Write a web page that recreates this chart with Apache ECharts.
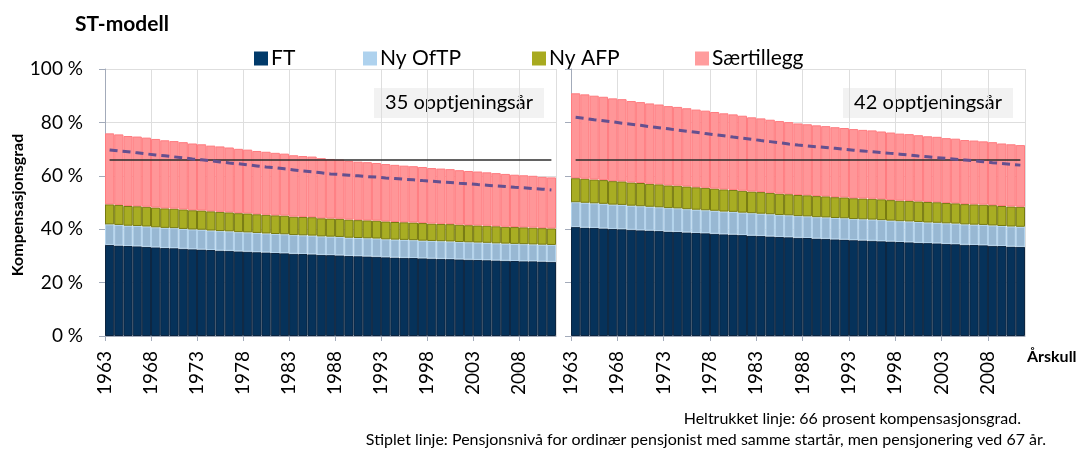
<!DOCTYPE html>
<html>
<head>
<meta charset="utf-8">
<script src="https://cdn.jsdelivr.net/npm/echarts@6/dist/echarts.min.js"></script>
<style>
  html, body { margin: 0; padding: 0; background: #fff; }
  #chart { width: 1084px; height: 451px; }
</style>
</head>
<body>
<div id="chart"></div>
<script>
// årskull 1963 - 2011
const firstYear = 1963;
const years = Array.from({ length: 49 }, (_, i) => String(firstYear + i));
const yTicks = [0, 20, 40, 60, 80, 100];
const level66 = 66;

// 35 opptjeningsår
const ft35 = [34.1,33.9,33.7,33.6,33.4,33.2,33.0,32.9,32.7,32.5,32.4,32.2,32.0,31.9,31.7,31.6,31.4,31.3,31.1,31.0,30.8,30.7,30.6,30.4,30.3,30.2,30.0,29.9,29.8,29.7,29.5,29.4,29.3,29.2,29.1,29.0,28.9,28.8,28.7,28.6,28.5,28.4,28.3,28.2,28.1,28.0,28.0,27.9,27.8];
const oftp35 = [7.7,7.7,7.6,7.6,7.6,7.5,7.5,7.5,7.4,7.4,7.4,7.3,7.3,7.3,7.2,7.2,7.2,7.1,7.1,7.1,7.0,7.0,7.0,6.9,6.9,6.9,6.8,6.8,6.8,6.8,6.7,6.7,6.7,6.7,6.6,6.6,6.6,6.6,6.5,6.5,6.5,6.5,6.4,6.4,6.4,6.4,6.3,6.3,6.3];
const afp35 = [7.5,7.5,7.4,7.4,7.4,7.4,7.3,7.3,7.3,7.2,7.2,7.2,7.2,7.1,7.1,7.1,7.0,7.0,7.0,7.0,6.9,6.9,6.9,6.8,6.8,6.8,6.8,6.7,6.7,6.7,6.7,6.6,6.6,6.6,6.6,6.5,6.5,6.5,6.5,6.4,6.4,6.4,6.4,6.3,6.3,6.3,6.3,6.2,6.2];
const saer35 = [26.6,26.4,26.2,26.1,25.9,25.7,25.5,25.3,25.2,25.0,24.8,24.6,24.5,24.3,24.1,23.9,23.7,23.6,23.4,23.2,23.0,22.8,22.7,22.5,22.3,22.2,22.0,21.9,21.8,21.6,21.5,21.4,21.2,21.1,21.0,20.8,20.7,20.6,20.4,20.3,20.2,20.0,19.9,19.8,19.6,19.5,19.4,19.2,19.1];
const dash35 = [69.7,69.3,69.0,68.6,68.2,67.8,67.5,67.1,66.7,66.3,66.0,65.6,65.2,64.8,64.5,64.1,63.7,63.3,63.0,62.6,62.2,61.8,61.5,61.1,60.7,60.5,60.2,60.0,59.7,59.5,59.2,59.0,58.7,58.5,58.2,58.0,57.7,57.5,57.2,57.0,56.7,56.5,56.2,56.0,55.7,55.5,55.2,55.0,54.7];

// 42 opptjeningsår
const ft42 = [40.8,40.6,40.5,40.3,40.1,40.0,39.8,39.6,39.5,39.3,39.1,39.0,38.8,38.6,38.5,38.3,38.1,38.0,37.8,37.6,37.5,37.3,37.1,37.0,36.8,36.7,36.5,36.4,36.2,36.1,35.9,35.8,35.7,35.5,35.4,35.2,35.1,34.9,34.8,34.7,34.5,34.4,34.2,34.1,34.0,33.8,33.7,33.5,33.4];
const oftp42 = [9.3,9.3,9.2,9.2,9.1,9.1,9.0,9.0,8.9,8.9,8.8,8.8,8.7,8.7,8.6,8.6,8.5,8.5,8.4,8.4,8.3,8.3,8.2,8.2,8.1,8.1,8.0,8.0,8.0,8.0,7.9,7.9,7.9,7.9,7.8,7.8,7.8,7.8,7.7,7.7,7.7,7.7,7.6,7.6,7.6,7.6,7.5,7.5,7.5];
const afp42 = [9.0,9.0,8.9,8.9,8.8,8.8,8.7,8.7,8.6,8.6,8.5,8.5,8.5,8.4,8.4,8.3,8.3,8.2,8.2,8.1,8.1,8.0,8.0,7.9,7.9,7.9,7.9,7.9,7.8,7.8,7.8,7.8,7.8,7.8,7.7,7.7,7.7,7.7,7.7,7.7,7.6,7.6,7.6,7.6,7.6,7.6,7.5,7.5,7.5];
const saer42 = [31.8,31.6,31.4,31.2,31.0,30.8,30.5,30.3,30.1,29.9,29.7,29.5,29.3,29.1,28.9,28.7,28.5,28.3,28.1,27.8,27.6,27.4,27.2,27.0,26.8,26.6,26.5,26.3,26.2,26.0,25.9,25.7,25.6,25.4,25.3,25.1,25.0,24.8,24.6,24.5,24.3,24.2,24.0,23.9,23.7,23.6,23.4,23.3,23.1];
const dash42 = [81.9,81.5,81.0,80.6,80.2,79.7,79.3,78.9,78.4,78.0,77.6,77.1,76.7,76.3,75.8,75.4,75.0,74.5,74.1,73.7,73.2,72.8,72.4,71.9,71.5,71.2,70.9,70.6,70.3,69.9,69.6,69.3,69.0,68.7,68.4,68.1,67.8,67.4,67.1,66.8,66.5,66.2,65.9,65.6,65.3,64.9,64.6,64.3,64.0];

const font = 'Lato, "Noto Sans", sans-serif';
const axisGray = '#a3abba';
const gridGray = '#dedede';

const parts = [
  { name: 'FT', fill: '#06325a', border: '#0c2540', legend: '#003a6a' },
  { name: 'Ny OfTP', fill: '#98b8d3', border: '#b3d3ec', legend: '#aed2ee' },
  { name: 'Ny AFP', fill: '#a8ad23', border: '#777a10', legend: '#a8aa1f' },
  { name: 'Særtillegg', fill: '#ff9698', border: '#ff7b7f', legend: '#ff9c9d' }
];
const legendLeft = [249, 358, 527, 690];

function panel(idx, values, dashed) {
  const xi = idx * 2;
  const out = parts.map((p, k) => ({
    name: p.name,
    type: 'bar',
    stack: 'p' + idx,
    xAxisIndex: xi,
    yAxisIndex: idx,
    barCategoryGap: '0%',
    itemStyle: { color: p.fill, borderColor: p.border, borderWidth: 1 },
    data: values[k]
  }));
  out.push({
    name: 'stiplet' + idx,
    type: 'line',
    xAxisIndex: xi,
    yAxisIndex: idx,
    symbol: 'none',
    z: 5,
    lineStyle: { color: '#65508f', width: 3, type: [8, 5] },
    data: dashed,
    markLine: {
      silent: true,
      symbol: 'none',
      label: { show: false },
      lineStyle: { color: '#2e2e2e', width: 1.5, type: 'solid' },
      data: [[{ coord: [years[0], level66] }, { coord: [years[years.length - 1], level66] }]]
    }
  });
  return out;
}

function catAxis(grid) {
  return { type: 'category', gridIndex: grid, data: years, show: false };
}
function yearAxis(grid) {
  return {
    type: 'value', gridIndex: grid, position: 'bottom',
    min: 0, max: years.length, interval: 5,
    axisLine: { show: true, lineStyle: { color: axisGray } },
    axisTick: { show: true, length: 5, lineStyle: { color: axisGray } },
    axisLabel: {
      rotate: 90, margin: 15, fontSize: 19, fontFamily: font, color: '#000',
      showMaxLabel: false,
      formatter: v => String(firstYear + v)
    },
    splitLine: { show: true, lineStyle: { color: gridGray } }
  };
}
function pctAxis(grid, labels) {
  return {
    type: 'value', gridIndex: grid,
    min: yTicks[0], max: yTicks[yTicks.length - 1], interval: 20,
    axisLine: { show: true, lineStyle: { color: axisGray } },
    axisTick: { show: true, length: 6, lineStyle: { color: axisGray } },
    axisLabel: { show: labels, margin: 22, fontSize: 19, fontFamily: font, color: '#000', formatter: '{value} %' },
    splitLine: { show: true, lineStyle: { color: gridGray } }
  };
}

const chart = echarts.init(document.getElementById('chart'));
chart.setOption({
  animation: false,
  backgroundColor: '#fff',
  grid: [
    { left: 105, right: 528, top: 69, bottom: 115 },
    { left: 571, right: 59, top: 69, bottom: 115 }
  ],
  legend: parts.map((p, i) => ({
    left: legendLeft[i], top: 43,
    itemWidth: 14, itemHeight: 14,
    selectedMode: false,
    icon: 'rect',
    textStyle: { fontSize: 21, fontFamily: font, color: '#000', padding: [0, 0, 0, -2] },
    data: [{ name: p.name, itemStyle: { color: p.legend, borderWidth: 0 } }]
  })),
  xAxis: [catAxis(0), yearAxis(0), catAxis(1), yearAxis(1)],
  yAxis: [pctAxis(0, true), pctAxis(1, false)],
  series: [
    ...panel(0, [ft35, oftp35, afp35, saer35], dash35),
    ...panel(1, [ft42, oftp42, afp42, saer42], dash42)
  ],
  graphic: [
    { type: 'text', left: 75, top: 14, style: { text: 'ST-modell', font: 'bold 21px ' + font, fill: '#000' } },
    { type: 'text', x: 18, y: 205, rotation: Math.PI / 2,
      style: { text: 'Kompensasjonsgrad', font: 'bold 16px ' + font, fill: '#000', align: 'center', verticalAlign: 'middle' } },
    { type: 'rect', shape: { x: 374, y: 88, width: 170, height: 30 }, style: { fill: '#f2f2f2' } },
    { type: 'text', x: 459, y: 103, style: { text: '35 opptjeningsår', font: '20px ' + font, fill: '#000', align: 'center', verticalAlign: 'middle' } },
    { type: 'rect', shape: { x: 843, y: 88, width: 170, height: 30 }, style: { fill: '#f2f2f2' } },
    { type: 'text', x: 928, y: 103, style: { text: '42 opptjeningsår', font: '20px ' + font, fill: '#000', align: 'center', verticalAlign: 'middle' } },
    { type: 'text', x: 1027, y: 357, style: { text: 'Årskull', font: 'bold 16px ' + font, fill: '#000', verticalAlign: 'middle' } },
    { type: 'text', x: 1021, y: 419, style: { text: 'Heltrukket linje: 66 prosent kompensasjonsgrad.', font: '16px ' + font, fill: '#000', align: 'right', verticalAlign: 'middle' } },
    { type: 'text', x: 1046, y: 440, style: { text: 'Stiplet linje: Pensjonsnivå for ordinær pensjonist med samme startår, men pensjonering ved 67 år.', font: '16px ' + font, fill: '#000', align: 'right', verticalAlign: 'middle' } }
  ]
});
</script>
</body>
</html>
